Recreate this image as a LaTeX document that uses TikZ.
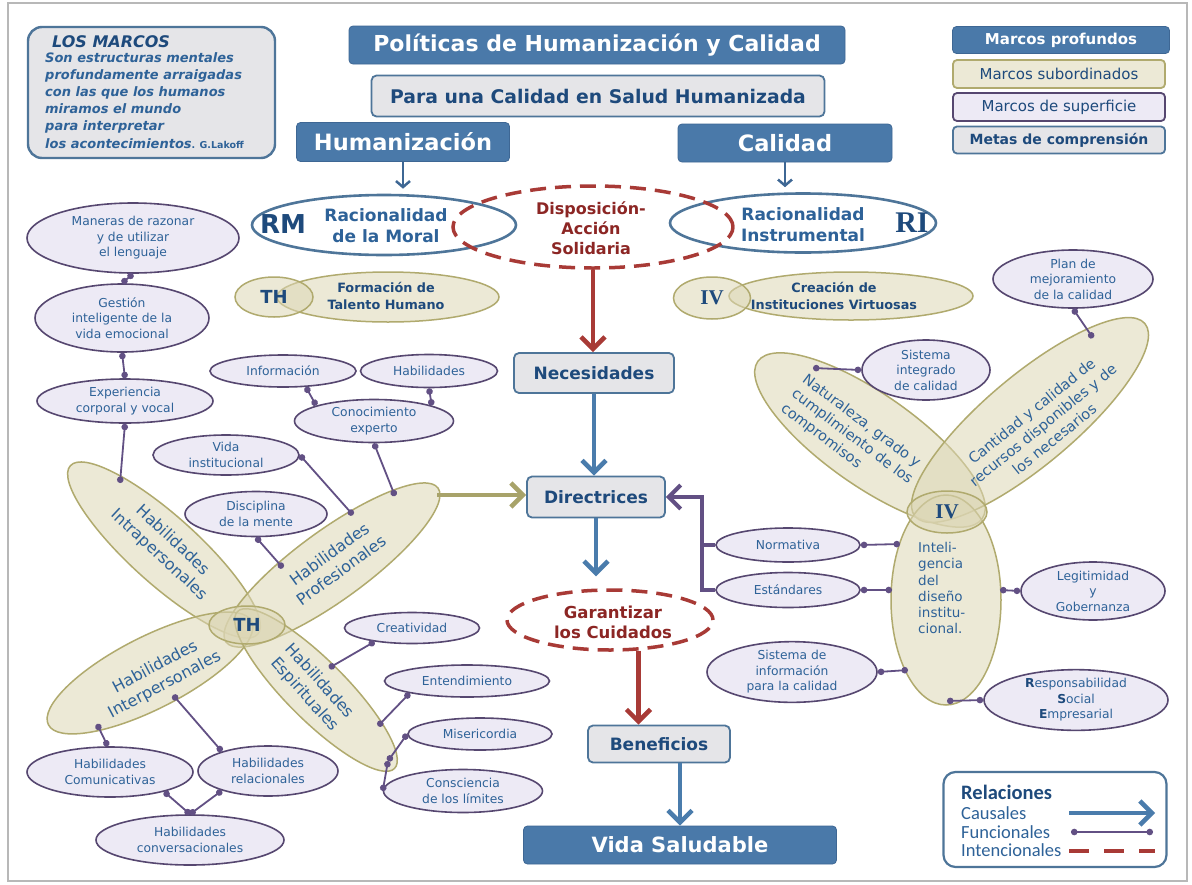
\documentclass[tikz,border=0pt]{standalone}
\usepackage{fontspec}
\setmainfont{DejaVu Sans}[BoldFont={DejaVu Sans Bold},ItalicFont={DejaVu Sans Oblique},BoldItalicFont={DejaVu Sans Bold Oblique}]
\newfontfamily\calfont{Carlito}
\newfontfamily\seriffam{Liberation Serif}
\usetikzlibrary{shapes.geometric,arrows.meta}
\definecolor{mblue}{RGB}{74,121,169}
\definecolor{mbluedk}{RGB}{62,103,148}
\definecolor{bborder}{RGB}{78,117,153}
\definecolor{tblue}{RGB}{30,74,124}
\definecolor{lblue}{RGB}{46,98,152}
\definecolor{mgrey}{RGB}{229,229,232}
\definecolor{beigefill}{RGB}{221,215,182}
\definecolor{beigesolid}{RGB}{236,233,214}
\definecolor{olivedraw}{RGB}{176,170,110}
\definecolor{lavfill}{RGB}{237,234,245}
\definecolor{purpdraw}{RGB}{86,71,112}
\definecolor{mred}{RGB}{168,58,54}
\definecolor{tred}{RGB}{140,38,36}
\definecolor{cblue}{RGB}{74,124,172}
\definecolor{purpline}{RGB}{98,80,132}
\definecolor{oliveline}{RGB}{168,163,106}
\newcommand{\fsz}[2]{\fontsize{#1}{#2}\selectfont}
\tikzset{
  deepbox/.style={rectangle, rounded corners=4pt, fill=mblue, draw=mbluedk, line width=0.8pt, text=white, inner sep=0pt},
  goalbox/.style={rectangle, rounded corners=5pt, fill=mgrey, draw=bborder, line width=1.8pt, text=tblue, inner sep=0pt, font=\bfseries\fsz{17}{20}},
  subell/.style={ellipse, fill=beigefill, fill opacity=0.55, text opacity=1, draw=olivedraw, line width=1.5pt, inner sep=0pt},
  surfell/.style={ellipse, fill=lavfill, draw=purpdraw, line width=1.6pt, text=lblue, font=\fsz{12.3}{15.5}, align=center, inner sep=0pt},
  intentell/.style={ellipse, draw=mred, line width=3.5pt, dash pattern=on 16pt off 9pt, inner sep=0pt},
  frameell/.style={ellipse, draw=bborder, line width=2.6pt, fill=white, inner sep=0pt},
  funcline/.style={draw=purpline, line width=1.8pt, {Circle[length=6.5pt]}-{Circle[length=6.5pt]}},
  causal/.style={draw=cblue, line width=4.5pt, -{Straight Barb[length=12pt,width=24pt]}},
  thinarrow/.style={draw=mbluedk, line width=2.5pt, -{Straight Barb[length=6pt,width=14pt]}},
  intentarrow/.style={draw=mred, line width=4.5pt, -{Straight Barb[length=12pt,width=24pt]}},
  funcarrow/.style={draw=purpline, line width=4pt, -{Straight Barb[length=12pt,width=24pt]}},
  subarrow/.style={draw=oliveline, line width=4.5pt, -{Straight Barb[length=12pt,width=24pt]}},
  bigtext/.style={text=lblue, font=\fsz{16}{20}, align=center, inner sep=0pt},
  subtext/.style={text=tblue, font=\bfseries\fsz{12.8}{17}, align=center, inner sep=0pt},
  plain/.style={inner sep=0pt},
  legtext/.style={anchor=west, inner sep=0pt, text=lblue, font=\calfont\fsz{18.5}{20}},
}
\begin{document}
\begin{tikzpicture}[x=1pt,y=-1pt]
\useasboundingbox (0,0) rectangle (1192,884);
\fill[white] (0,0) rectangle (1192,884);
\draw[black!28, line width=1.5pt] (8,3) rectangle (1187,881);

% ---- info box
\node[rectangle, rounded corners=14pt, fill=mgrey, draw=bborder, line width=2.4pt, minimum width=247pt, minimum height=131pt, inner sep=0pt] (marcos) at (151.5,92.5) {};
\node[plain, anchor=west, text=tblue, font=\bfseries\itshape\fsz{16}{18}] (marcostit) at (52,42) {LOS MARCOS};
\node[plain, anchor=north west, align=left, text=lblue, font=\bfseries\itshape\fsz{13}{17.2}] (marcostxt) at (45,52) {Son estructuras mentales\\profundamente arraigadas\\con las que los humanos\\miramos el mundo\\para interpretar\\los acontecimientos{\upshape\fsz{9.5}{17.2}. G.Lakoff}};

% ---- titles
\node[deepbox, minimum width=496pt, minimum height=38pt, font=\bfseries\fsz{22}{24}] (title) at (597,45) {Políticas de Humanización y Calidad};
\node[goalbox, minimum width=453pt, minimum height=41pt, font=\bfseries\fsz{18.8}{21}] (para) at (598,96) {Para una Calidad en Salud Humanizada};
\node[deepbox, minimum width=213pt, minimum height=39pt, font=\bfseries\fsz{22.5}{25}] (human) at (403,142) {Humanización};
\node[deepbox, minimum width=214pt, minimum height=38pt, font=\bfseries\fsz{22.5}{25}] (calid) at (785,143) {Calidad};

% ---- legend top right
\node[deepbox, minimum width=217pt, minimum height=27pt, font=\bfseries\fsz{15}{17}] (lgdeep) at (1061,40) {Marcos profundos};
\node[rectangle, rounded corners=4pt, fill=beigesolid, draw=olivedraw, line width=1.8pt, minimum width=212pt, minimum height=28pt, text=tblue, font=\fsz{15}{17}, inner sep=0pt] (lgsub) at (1059,74) {Marcos subordinados};
\node[rectangle, rounded corners=4pt, fill=lavfill, draw=purpdraw, line width=1.8pt, minimum width=212pt, minimum height=28pt, text=tblue, font=\fsz{15}{17}, inner sep=0pt] (lgsurf) at (1059,107) {Marcos de superficie};
\node[goalbox, rounded corners=4pt, minimum width=212pt, minimum height=27pt, font=\bfseries\fsz{14}{16}] (lggoal) at (1059,140) {Metas de comprensión};

% ---- rationalities
\node[frameell, minimum width=264pt, minimum height=60pt] (rm) at (384,225) {};
\node[plain, text=tblue, font=\bfseries\fsz{26}{28}] (rmlab) at (283,224) {RM};
\node[plain, text=lblue, font=\bfseries\fsz{17}{21}, align=center] (rmtxt) at (386,226) {Racionalidad\\de la Moral};
\node[frameell, minimum width=266pt, minimum height=59pt] (ri) at (803,223) {};
\node[plain, text=lblue, font=\bfseries\fsz{17}{21}, align=center] (ritxt) at (803,225) {Racionalidad\\Instrumental};
\node[plain, text=tblue, font=\seriffam\bfseries\fsz{30}{30}] (rilab) at (912,223) {RI};
\node[intentell, minimum width=280pt, minimum height=82pt] (dispo) at (593,227) {};
\node[plain, text=tred, font=\bfseries\fsz{16}{20}, align=center] (dispotxt) at (591,228) {Disposición-\\Acción\\Solidaria};

% ---- subordinate frames top
\node[subell, minimum width=222pt, minimum height=50pt] (fth) at (388,297) {};
\node[subell, minimum width=78pt, minimum height=40pt] (thtop) at (274,297) {};
\node[plain, text=tblue, font=\bfseries\fsz{18}{20}] (thtoplab) at (274,297) {TH};
\node[subtext] (fthtxt) at (386,296) {Formación de\\Talento Humano};
\node[subell, minimum width=244pt, minimum height=48pt] (civ) at (851,296) {};
\node[subell, minimum width=77pt, minimum height=42pt] (ivtop) at (712,298) {};
\node[plain, text=tblue, font=\seriffam\bfseries\fsz{21}{22}] (ivtoplab) at (712,298) {IV};
\node[subtext] (civtxt) at (834,296) {Creación de\\Instituciones Virtuosas};

% ---- central flow
\node[goalbox, minimum width=160pt, minimum height=40pt] (neces) at (594,373) {Necesidades};
\node[goalbox, minimum width=138pt, minimum height=41pt] (direc) at (596,497) {Directrices};
\node[intentell, minimum width=206pt, minimum height=60pt] (garant) at (610,620) {};
\node[plain, text=tred, font=\bfseries\fsz{16.5}{20}, align=center] (garanttxt) at (613,622) {Garantizar\\los Cuidados};
\node[goalbox, minimum width=142pt, minimum height=37pt] (benef) at (659,744) {Beneficios};
\node[deepbox, minimum width=313pt, minimum height=38pt, font=\bfseries\fsz{21}{24}] (vida) at (680,845) {Vida Saludable};

\draw[thinarrow, shorten >=5pt] (human.south) -- (human.south |- rm.north);
\draw[thinarrow, shorten >=5pt] (calid.south) -- (calid.south |- ri.north);
\draw[intentarrow] (dispo.south) -- (dispo.south |- neces.north);
\draw[causal] (neces.south) -- (neces.south |- direc.north);
\draw[causal, shorten >=12pt] (direc.south) -- (direc.south |- garant.north);
\draw[intentarrow] (garant.-47) -- (garant.-47 |- benef.north);
\draw[causal] (vida.north |- benef.south) -- (vida.north);

% ---- left cluster (TH)
\node[subell, minimum width=252pt, minimum height=68pt, rotate=-42] (intra) at (164,550) {};
\node[subell, minimum width=262pt, minimum height=70pt, rotate=36] (prof) at (332,565) {};
\node[subell, minimum width=228pt, minimum height=72pt, rotate=27] (inter) at (150,673) {};
\node[subell, minimum width=222pt, minimum height=60pt, rotate=-45] (espi) at (316,690) {};
\node[subell, minimum width=76pt, minimum height=38pt] (thc) at (247,625) {};
\node[plain, text=tblue, font=\bfseries\fsz{18}{20}] (thclab) at (247,625) {TH};
\node[bigtext, rotate=-43] (intratxt) at (166,548) {Habilidades\\Intrapersonales};
\node[bigtext, rotate=36] (proftxt) at (335,562) {Habilidades\\Profesionales};
\node[bigtext, rotate=28] (intertxt) at (160,676) {Habilidades\\Interpersonales};
\node[bigtext, rotate=-48] (espitxt) at (312,688) {Habilidades\\Espirituales};

\coordinate (intraA) at (120,483);
\coordinate (profA) at (395,496);
\coordinate (profB) at (353,515);
\coordinate (profC) at (283,568);
\coordinate (profE) at (437,495);
\coordinate (interA) at (97,724);
\coordinate (interB) at (173,695);
\coordinate (espiA) at (329,668);
\coordinate (espiB) at (378,726);
\coordinate (espiC) at (388,761);

\node[surfell, minimum width=212pt, minimum height=70pt] (man) at (133,238) {Maneras de razonar\\y de utilizar\\el lenguaje};
\node[surfell, minimum width=174pt, minimum height=68pt] (gest) at (122,318) {Gestión\\inteligente de la\\vida emocional};
\node[surfell, minimum width=176pt, minimum height=44pt] (expe) at (125,401) {Experiencia\\corporal y vocal};
\node[surfell, minimum width=146pt, minimum height=32pt] (info) at (283,371) {Información};
\node[surfell, minimum width=137pt, minimum height=33pt] (habi) at (429,371) {Habilidades};
\node[surfell, minimum width=159pt, minimum height=43pt] (cono) at (374,421) {Conocimiento\\experto};
\node[surfell, minimum width=146pt, minimum height=40pt] (vidai) at (226,455) {Vida\\institucional};
\node[surfell, minimum width=142pt, minimum height=45pt] (disc) at (256,514) {Disciplina\\de la mente};
\node[surfell, minimum width=166pt, minimum height=50pt] (comu) at (110,772) {Habilidades\\Comunicativas};
\node[surfell, minimum width=140pt, minimum height=50pt] (rela) at (268,771) {Habilidades\\relacionales};
\node[surfell, minimum width=188pt, minimum height=50pt] (conv) at (190,840) {Habilidades\\conversacionales};
\node[surfell, minimum width=135pt, minimum height=31pt] (crea) at (412,628) {Creatividad};
\node[surfell, minimum width=165pt, minimum height=32pt] (enten) at (467,681) {Entendimiento};
\node[surfell, minimum width=144pt, minimum height=32pt] (miser) at (480,734) {Misericordia};
\node[surfell, minimum width=159pt, minimum height=43pt] (consc) at (463,791) {Consciencia\\de los límites};

\draw[funcline] (man.south) -- (gest.north);
\draw[funcline] (gest.south) -- (expe.north);
\draw[funcline] (expe.south) -- (intraA);
\draw[funcline] (info.-35) -- (cono.165);
\draw[funcline] (habi.south) -- (cono.15);
\draw[funcline] (cono.south) -- (profA);
\draw[funcline] (vidai.east) -- (profB);
\draw[funcline] (disc.south) -- (profC);
\draw[funcline] (interA) -- (comu.95);
\draw[funcline] (interB) -- (rela.157);
\draw[funcline] (comu.-20) -- (conv.north);
\draw[funcline] (rela.-157) -- (conv.north);
\draw[funcline] (espiA) -- (crea.-160);
\draw[funcline] (espiB) -- (enten.-168);
\draw[funcline] (espiC) -- (miser.west);
\draw[funcline] (espiC) -- (consc.west);
\draw[subarrow] (profE) -- (profE -| direc.west);

% ---- right cluster (IV)
\node[subell, minimum width=274pt, minimum height=92pt, rotate=-35] (natu) at (870,440) {};
\node[subell, minimum width=300pt, minimum height=90pt, rotate=40] (cant) at (1030,420) {};
\node[subell, minimum width=110pt, minimum height=210pt] (intel) at (946,600) {};
\node[subell, minimum width=80pt, minimum height=42pt] (ivc) at (947,512) {};
\node[plain, text=tblue, font=\seriffam\bfseries\fsz{21}{22}] (ivclab) at (947,512) {IV};
\node[plain, text=lblue, font=\fsz{14.5}{18}, align=left, rotate=-37] (natutxt) at (852,437) {Naturaleza, grado y\\cumplimiento de los\\compromisos};
\node[plain, text=lblue, font=\fsz{14.5}{18}, align=center, rotate=39] (canttxt) at (1043,425) {Cantidad y calidad de\\recursos disponibles y de\\los necesarios};
\node[plain, anchor=north west, text=lblue, font=\fsz{13.5}{16.3}, align=left] (inteltxt) at (918,542) {Inteli-\\gencia\\del\\diseño\\institu-\\cional.};

\coordinate (natuA) at (813,368);
\coordinate (cantA) at (1093,338);
\coordinate (intelA) at (900,544);
\coordinate (intelB) at (892,590);
\coordinate (intelC) at (1000,590);
\coordinate (intelD) at (908,670);
\coordinate (intelE) at (947,701);

\node[surfell, minimum width=160pt, minimum height=58pt] (plan) at (1073,279) {Plan de\\mejoramiento\\de la calidad};
\node[surfell, minimum width=128pt, minimum height=60pt] (sint) at (926,370) {Sistema\\integrado\\de calidad};
\node[surfell, minimum width=144pt, minimum height=34pt] (norm) at (788,545) {Normativa};
\node[surfell, minimum width=144pt, minimum height=35pt] (estan) at (788,590) {Estándares};
\node[surfell, minimum width=144pt, minimum height=58pt] (legit) at (1093,591) {Legitimidad\\y\\Gobernanza};
\node[surfell, minimum width=170pt, minimum height=60pt] (sinf) at (792,672) {Sistema de\\información\\para la calidad};
\node[surfell, minimum width=184pt, minimum height=60pt] (rse) at (1076,700) {{\bfseries\color{tblue}R}esponsabilidad\\{\bfseries\color{tblue}S}ocial\\{\bfseries\color{tblue}E}mpresarial};

\draw[funcline] (plan.south) -- (cantA);
\draw[funcline] (sint.west) -- (natuA);
\draw[funcline] (norm.east) -- (intelA);
\draw[funcline] (estan.east) -- (intelB);
\draw[funcline] (legit.west) -- (intelC);
\draw[funcline] (sinf.east) -- (intelD);
\draw[funcline] (rse.west) -- (intelE);

\coordinate (pbend) at (702,497);
\draw[funcarrow] (estan.west) -| (pbend) -- (direc.east);
\draw[draw=purpline, line width=4pt] (norm.west) -- (norm.west -| pbend);

% ---- relations legend
\node[rectangle, rounded corners=12pt, draw=bborder, line width=2.2pt, fill=white, minimum width=223pt, minimum height=95pt, inner sep=0pt] (lgrel) at (1055,819.5) {};
\node[legtext, text=tblue, font=\calfont\bfseries\fsz{20.5}{22}] (lgreltit) at (961,792) {Relaciones};
\node[legtext] (lgcaus) at (961,813) {Causales};
\node[legtext] (lgfunc) at (961,832) {Funcionales};
\node[legtext] (lgint) at (961,850) {Intencionales};
\coordinate (lcs) at (1069,813);
\coordinate (lce) at (1155,813);
\coordinate (lfs) at (1071,832);
\coordinate (lfe) at (1153,832);
\coordinate (lis) at (1069,851);
\coordinate (lie) at (1155,851);
\draw[causal] (lcs) -- (lce);
\draw[funcline, line width=2pt] (lfs) -- (lfe);
\draw[draw=mred, line width=4pt, dash pattern=on 20pt off 15pt] (lis) -- (lie);
\end{tikzpicture}
\end{document}
